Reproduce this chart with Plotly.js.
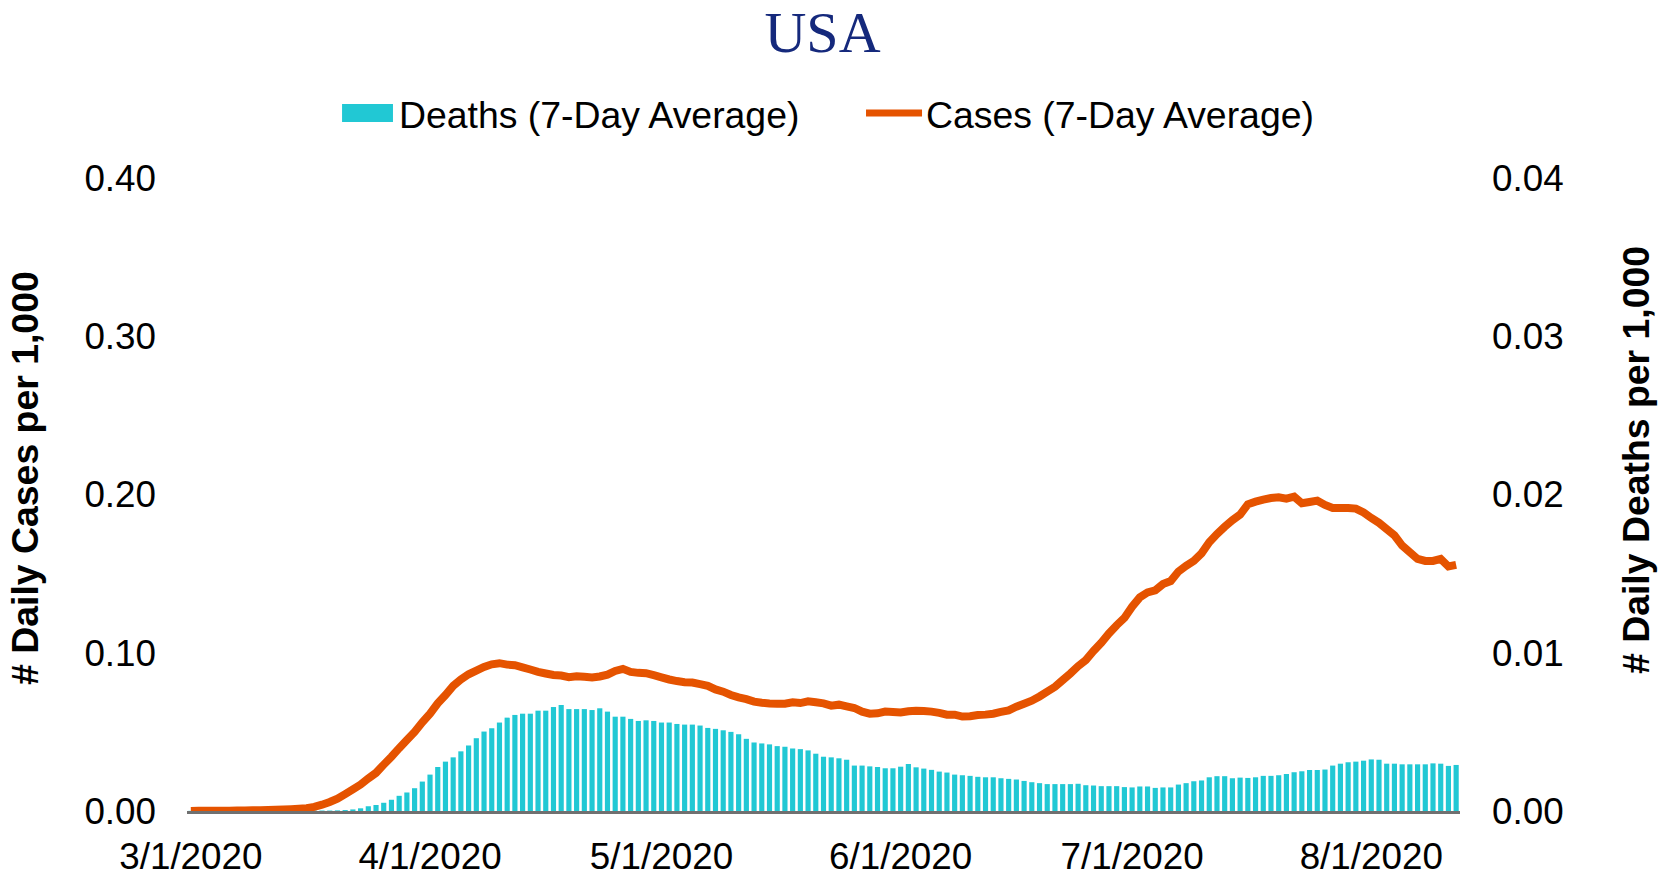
<!DOCTYPE html>
<html>
<head>
<meta charset="utf-8">
<script src="https://cdn.plot.ly/plotly-3.0.1.min.js"></script>
<style>
  html, body { margin: 0; padding: 0; background: #ffffff; }
  #chart { width: 1665px; height: 879px; }
</style>
</head>
<body>
<div id="chart"></div>
<script>
// ---- Data (daily, 3/1/2020 .. 8/12/2020) ----
const START_DATE = '2020-03-01';

const casesPer1000 = [
  0.0000, 0.0001, 0.0001, 0.0001, 0.0002, 0.0002, 0.0003, 0.0003, 0.0004, 0.0005,
  0.0006, 0.0008, 0.0009, 0.0011, 0.0014, 0.0018, 0.0026, 0.0040, 0.0057, 0.0078,
  0.0107, 0.0137, 0.0167, 0.0206, 0.0241, 0.0293, 0.0343, 0.0397, 0.0448, 0.0500,
  0.0561, 0.0615, 0.0680, 0.0733, 0.0791, 0.0831, 0.0864, 0.0887, 0.0910, 0.0927,
  0.0934, 0.0925, 0.0921, 0.0908, 0.0894, 0.0879, 0.0869, 0.0860, 0.0856, 0.0846,
  0.0852, 0.0848, 0.0844, 0.0850, 0.0862, 0.0885, 0.0898, 0.0879, 0.0873, 0.0871,
  0.0858, 0.0844, 0.0831, 0.0821, 0.0814, 0.0812, 0.0802, 0.0791, 0.0768, 0.0754,
  0.0733, 0.0718, 0.0707, 0.0691, 0.0684, 0.0680, 0.0678, 0.0678, 0.0687, 0.0682,
  0.0693, 0.0687, 0.0680, 0.0666, 0.0672, 0.0661, 0.0651, 0.0628, 0.0615, 0.0617,
  0.0628, 0.0626, 0.0622, 0.0630, 0.0634, 0.0632, 0.0628, 0.0620, 0.0609, 0.0609,
  0.0597, 0.0599, 0.0607, 0.0609, 0.0615, 0.0626, 0.0636, 0.0659, 0.0678, 0.0697,
  0.0724, 0.0754, 0.0785, 0.0827, 0.0869, 0.0915, 0.0954, 0.1011, 0.1063, 0.1122,
  0.1174, 0.1220, 0.1291, 0.1350, 0.1381, 0.1394, 0.1434, 0.1453, 0.1513, 0.1549,
  0.1580, 0.1628, 0.1698, 0.1750, 0.1796, 0.1838, 0.1873, 0.1938, 0.1955, 0.1968,
  0.1978, 0.1982, 0.1974, 0.1986, 0.1945, 0.1953, 0.1961, 0.1934, 0.1915, 0.1915,
  0.1915, 0.1911, 0.1886, 0.1852, 0.1821, 0.1781, 0.1742, 0.1677, 0.1635, 0.1593,
  0.1580, 0.1580, 0.1593, 0.1545, 0.1555
];

const deathsPer1000 = [
  0.00001, 0.00001, 0.00001, 0.00001, 0.00001, 0.00001, 0.00001, 0.00001, 0.00001, 0.00001,
  0.00001, 0.00001, 0.00001, 0.00002, 0.00002, 0.00002, 0.00003, 0.00003, 0.00003, 0.00004,
  0.00006, 0.00010, 0.00017, 0.00030, 0.00038, 0.00052, 0.00071, 0.00096, 0.00117, 0.00144,
  0.00186, 0.00230, 0.00278, 0.00312, 0.00339, 0.00377, 0.00414, 0.00460, 0.00502, 0.00523,
  0.00559, 0.00590, 0.00607, 0.00615, 0.00615, 0.00634, 0.00634, 0.00657, 0.00670, 0.00644,
  0.00644, 0.00644, 0.00638, 0.00649, 0.00628, 0.00596, 0.00596, 0.00582, 0.00569, 0.00573,
  0.00569, 0.00559, 0.00559, 0.00550, 0.00546, 0.00546, 0.00540, 0.00525, 0.00519, 0.00510,
  0.00500, 0.00485, 0.00456, 0.00433, 0.00427, 0.00421, 0.00410, 0.00406, 0.00395, 0.00391,
  0.00383, 0.00362, 0.00343, 0.00339, 0.00333, 0.00324, 0.00287, 0.00287, 0.00282, 0.00278,
  0.00270, 0.00270, 0.00280, 0.00297, 0.00276, 0.00268, 0.00260, 0.00249, 0.00243, 0.00230,
  0.00226, 0.00222, 0.00216, 0.00213, 0.00213, 0.00207, 0.00203, 0.00199, 0.00190, 0.00182,
  0.00176, 0.00170, 0.00170, 0.00170, 0.00170, 0.00172, 0.00163, 0.00161, 0.00157, 0.00157,
  0.00157, 0.00151, 0.00149, 0.00155, 0.00155, 0.00146, 0.00149, 0.00149, 0.00167, 0.00176,
  0.00188, 0.00193, 0.00213, 0.00220, 0.00220, 0.00207, 0.00211, 0.00209, 0.00213, 0.00222,
  0.00222, 0.00226, 0.00234, 0.00245, 0.00251, 0.00259, 0.00259, 0.00262, 0.00287, 0.00299,
  0.00308, 0.00312, 0.00318, 0.00326, 0.00324, 0.00299, 0.00299, 0.00295, 0.00295, 0.00295,
  0.00295, 0.00301, 0.00299, 0.00285, 0.00291
];

const tickDates  = ['2020-03-01', '2020-04-01', '2020-05-01', '2020-06-01', '2020-07-01', '2020-08-01'];
const tickLabels = ['3/1/2020', '4/1/2020', '5/1/2020', '6/1/2020', '7/1/2020', '8/1/2020'];

const chartTitle = 'USA';
const deathsName = 'Deaths (7-Day Average)';
const casesName  = 'Cases (7-Day Average)';
const leftAxisTitle  = '# Daily Cases per 1,000';
const rightAxisTitle = '# Daily Deaths per 1,000';

// daily date categories
const dates = [];
(function () {
  const p = START_DATE.split('-').map(Number);
  for (let i = 0; i < casesPer1000.length; i++) {
    dates.push(new Date(Date.UTC(p[0], p[1] - 1, p[2] + i)).toISOString().slice(0, 10));
  }
})();

// ---- Styling ----
const SANS = 'Liberation Sans, Arial, sans-serif';
const SERIF = 'Liberation Serif, Times New Roman, serif';
const CYAN = '#21C8D4';
const ORANGE = '#E55300';
const TICK_SIZE = 36.8;
const TEXT_SIZE = 37.4;

const traces = [
  {
    type: 'bar', name: deathsName, x: dates, y: deathsPer1000,
    xaxis: 'x', yaxis: 'y',
    marker: { color: CYAN, line: { width: 0 } },
    hoverinfo: 'x+y'
  },
  {
    type: 'scatter', mode: 'lines', name: casesName, x: dates, y: casesPer1000,
    xaxis: 'x', yaxis: 'y2',
    line: { color: ORANGE, width: 8, simplify: false },
    hoverinfo: 'x+y'
  }
];

const layout = {
  width: 1665, height: 879,
  paper_bgcolor: '#ffffff', plot_bgcolor: '#ffffff',
  margin: { l: 187, r: 205, t: 178, b: 68, pad: 0 },
  showlegend: false,
  bargap: 0.33,
  font: { family: SANS, size: TICK_SIZE, color: '#000000' },
  title: {
    text: chartTitle,
    font: { family: SERIF, size: 58, color: '#15297C' },
    x: 0.494, xref: 'container', xanchor: 'center',
    y: 0.9636, yref: 'container', yanchor: 'middle'
  },
  xaxis: {
    type: 'date',
    range: ['2020-02-29 12:00', '2020-08-12 12:00'],
    tickmode: 'array', tickvals: tickDates, ticktext: tickLabels,
    tickfont: { family: SANS, size: TICK_SIZE, color: '#000000' },
    showgrid: false, zeroline: false,
    showline: true, linecolor: '#707070', linewidth: 3,
    ticks: '', ticklabelstandoff: 11
  },
  yaxis: {
    side: 'right',
    range: [0, 0.04], dtick: 0.01, tick0: 0, tickformat: '.2f',
    tickfont: { family: SANS, size: TICK_SIZE, color: '#000000' },
    showgrid: false, zeroline: false, showline: false,
    ticks: '', ticklabelstandoff: 31
  },
  yaxis2: {
    overlaying: 'y', side: 'left',
    range: [0, 0.4], dtick: 0.1, tick0: 0, tickformat: '.2f',
    tickfont: { family: SANS, size: TICK_SIZE, color: '#000000' },
    showgrid: false, zeroline: false, showline: false,
    ticks: '', ticklabelstandoff: 30
  },
  shapes: [
    // legend swatches
    { type: 'rect', xref: 'paper', yref: 'paper',
      x0: 0.1218, x1: 0.1618, y0: 1.0885, y1: 1.1169,
      fillcolor: CYAN, line: { width: 0 } },
    { type: 'line', xref: 'paper', yref: 'paper',
      x0: 0.5334, x1: 0.5774, y0: 1.1027, y1: 1.1027,
      line: { color: ORANGE, width: 7 } }
  ],
  annotations: [
    { xref: 'paper', yref: 'paper', x: 0.165, y: 1.0995,
      xanchor: 'left', yanchor: 'middle', showarrow: false,
      text: deathsName, font: { family: SANS, size: TEXT_SIZE, color: '#000000' } },
    { xref: 'paper', yref: 'paper', x: 0.579, y: 1.0995,
      xanchor: 'left', yanchor: 'middle', showarrow: false,
      text: casesName, font: { family: SANS, size: TEXT_SIZE, color: '#000000' } },
    { xref: 'paper', yref: 'paper', x: -0.1273, y: 0.5261,
      xanchor: 'center', yanchor: 'middle', showarrow: false, textangle: -90,
      text: '<b>' + leftAxisTitle + '</b>', font: { family: SANS, size: TEXT_SIZE, color: '#000000' } },
    { xref: 'paper', yref: 'paper', x: 1.1383, y: 0.5545,
      xanchor: 'center', yanchor: 'middle', showarrow: false, textangle: -90,
      text: '<b>' + rightAxisTitle + '</b>', font: { family: SANS, size: TEXT_SIZE, color: '#000000' } }
  ]
};

Plotly.newPlot('chart', traces, layout, { displayModeBar: false, staticPlot: true });
</script>
</body>
</html>
